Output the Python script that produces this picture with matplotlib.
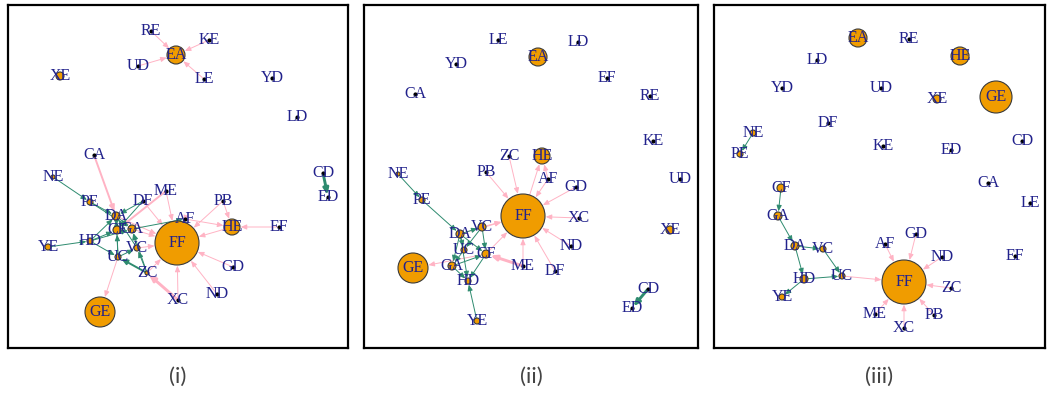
import matplotlib.pyplot as plt
from matplotlib.patches import Circle

# ノード座標（画像ピクセル座標で読み取り）
pos_i = {
    "RE": (151, 31), "KE": (209, 40), "EA": (176, 55), "UD": (138, 66), "LE": (204, 79),
    "XE": (60, 76), "YD": (272, 78), "LD": (297, 117), "CA": (94, 155), "NE": (53, 177),
    "CD": (323, 173), "ME": (166, 191), "PE": (90, 202), "DF": (143, 201), "PB": (223, 201),
    "ED": (328, 197), "DA": (116, 216), "AF": (185, 219), "HE": (232, 227), "EF": (279, 227),
    "CF": (117, 230), "GA": (132, 229), "FF": (177, 243), "HD": (90, 241), "YE": (48, 247),
    "VC": (137, 248), "UC": (118, 257), "GD": (233, 267), "ZC": (147, 273), "ND": (217, 294),
    "XC": (178, 300), "GE": (100, 312),
}
pos_ii = {
    "LE": (498, 40), "LD": (578, 42), "EA": (538, 57), "YD": (456, 64), "EF": (607, 78),
    "CA": (415, 94), "RE": (650, 96), "KE": (653, 141), "ZC": (509, 156), "HE": (542, 156),
    "NE": (398, 174), "PB": (486, 172), "AF": (548, 179), "UD": (680, 179), "GD": (576, 187),
    "PE": (422, 200), "FF": (523, 216), "XC": (579, 218), "VC": (482, 227), "XE": (670, 230),
    "DA": (460, 234), "ND": (571, 246), "UC": (464, 250), "CF": (486, 254), "ME": (523, 266),
    "GE": (413, 268), "GA": (452, 266), "DF": (555, 271), "HD": (468, 281), "CD": (648, 289),
    "ED": (632, 308), "YE": (477, 321),
}
pos_iii = {
    "EA": (858, 38), "RE": (909, 39), "HE": (960, 56), "LD": (817, 60), "YD": (782, 88),
    "UD": (881, 88), "XE": (937, 99), "GE": (996, 97), "DF": (828, 123), "NE": (753, 133),
    "KE": (883, 146), "ED": (951, 150), "CD": (1022, 141), "PE": (740, 154), "CA": (988, 183),
    "CF": (781, 188), "LE": (1030, 203), "GA": (778, 216), "GD": (916, 234), "AF": (885, 244),
    "DA": (795, 246), "VC": (823, 249), "ND": (942, 257), "EF": (1015, 256), "UC": (842, 276),
    "HD": (804, 279), "FF": (904, 282), "ZC": (951, 288), "YE": (782, 297), "ME": (875, 314),
    "PB": (934, 315), "XC": (904, 328),
}

# オレンジ色ノードの半径（px）
size_i = {"EA": 9, "XE": 4, "HE": 8, "FF": 22, "GE": 15, "DA": 4, "CF": 4, "GA": 4,
          "VC": 3, "UC": 3, "HD": 3, "PE": 3, "YE": 3, "NE": 2, "ZC": 2}
size_ii = {"EA": 9, "HE": 8, "FF": 22, "GE": 15, "XE": 4, "PE": 3, "DA": 4, "VC": 4,
           "UC": 3, "CF": 4, "GA": 4, "HD": 3, "YE": 3, "NE": 2}
size_iii = {"EA": 9, "HE": 9, "GE": 16, "XE": 4, "FF": 22, "CF": 4, "GA": 4, "DA": 4,
            "VC": 3, "UC": 3, "HD": 4, "YE": 3, "NE": 3, "PE": 3}

# エッジ（始点, 終点, 重み）
green_i = [("NE", "PE", 1), ("PE", "DA", 1), ("PE", "GA", 1), ("DF", "DA", 1), ("DF", "CF", 1),
           ("DA", "GA", 1), ("DA", "CF", 1), ("HD", "DA", 1), ("HD", "CF", 1), ("YE", "HD", 1),
           ("HD", "GA", 1), ("UC", "CF", 1), ("UC", "DA", 1), ("UC", "VC", 1), ("VC", "GA", 1),
           ("VC", "DA", 1), ("ZC", "GA", 1), ("ZC", "VC", 1), ("GA", "AF", 1), ("HD", "UC", 1),
           ("ZC", "UC", 2), ("CD", "ED", 3)]
pink_i = [("CA", "DA", 2), ("ME", "CF", 2), ("XC", "ZC", 3), ("ME", "FF", 1), ("DF", "FF", 1),
          ("AF", "FF", 1), ("PB", "HE", 1), ("PB", "FF", 1), ("AF", "HE", 1), ("EF", "HE", 1),
          ("GD", "FF", 1), ("ND", "FF", 1), ("XC", "FF", 1), ("ZC", "FF", 1), ("UC", "GE", 1),
          ("VC", "FF", 1), ("GA", "FF", 1), ("HE", "FF", 1), ("RE", "EA", 1), ("KE", "EA", 1),
          ("UD", "EA", 1), ("LE", "EA", 1), ("DA", "FF", 1)]
green_ii = [("NE", "PE", 1), ("PE", "DA", 1), ("DA", "CF", 1), ("DA", "VC", 1), ("DA", "UC", 1),
            ("DA", "GA", 1), ("DA", "HD", 1), ("VC", "CF", 1), ("VC", "UC", 1), ("UC", "GA", 1),
            ("GA", "HD", 1), ("GA", "CF", 1), ("CF", "HD", 1), ("YE", "HD", 1), ("CD", "ED", 3)]
pink_ii = [("ZC", "FF", 1), ("PB", "FF", 1), ("FF", "HE", 1), ("AF", "HE", 1), ("AF", "FF", 1),
           ("GD", "FF", 1), ("XC", "FF", 1), ("ND", "FF", 1), ("DF", "FF", 1), ("ME", "FF", 1),
           ("ME", "CF", 3), ("VC", "FF", 1), ("DA", "FF", 1), ("CF", "FF", 1), ("CF", "GE", 1)]
green_iii = [("NE", "PE", 1), ("CF", "GA", 1), ("GA", "DA", 1), ("DA", "VC", 1), ("DA", "HD", 1),
             ("VC", "UC", 1), ("HD", "UC", 1), ("HD", "YE", 1)]
pink_iii = [("UC", "FF", 1), ("AF", "FF", 1), ("GD", "FF", 1), ("ND", "FF", 1), ("ZC", "FF", 1),
            ("PB", "FF", 1), ("XC", "FF", 1), ("ME", "FF", 1)]

panel_labels = ["(i)", "(ii)", "(iii)"]

# パネル枠（px）: 左, 右, 上, 下
frames = [(8, 348, 5, 348), (364, 698, 5, 348), (714, 1045, 5, 348)]

W, H = 1048, 394
fig = plt.figure(figsize=(W / 100, H / 100), dpi=100)

PX2PT = 72 / 100
panels = [(pos_i, size_i, green_i, pink_i), (pos_ii, size_ii, green_ii, pink_ii),
          (pos_iii, size_iii, green_iii, pink_iii)]

for (pos, size, green, pink), (l, r, t, b), lab in zip(panels, frames, panel_labels):
    ax = fig.add_axes([l / W, 1 - b / H, (r - l) / W, (b - t) / H])
    ax.set_xlim(l, r)
    ax.set_ylim(b, t)
    ax.set_xticks([])
    ax.set_yticks([])
    for s in ax.spines.values():
        s.set_linewidth(1.6)
        s.set_color("black")

    # エッジ
    for edges, col in [(pink, "#ffb3c4"), (green, "#2e8b6f")]:
        for a, c, w in edges:
            rb = size.get(c, 1.5) * PX2PT + 0.5
            ra = size.get(a, 1.5) * PX2PT
            ax.annotate("", xy=pos[c], xytext=pos[a],
                        arrowprops=dict(arrowstyle="-|>,head_length=0.35,head_width=0.15",
                                        color=col, lw=0.7 * w, shrinkA=ra, shrinkB=rb),
                        zorder=2)

    # ノード
    for n, (x, y) in pos.items():
        if n in size:
            ax.add_patch(Circle((x, y), size[n], facecolor="#f09c00", edgecolor="#3a3a3a",
                                lw=0.8, zorder=3))
        else:
            ax.plot(x, y, "o", ms=2, color="black", zorder=3)
        ax.text(x, y, n, ha="center", va="center", fontsize=11.5, color="#22228c",
                family="Liberation Serif", zorder=4)

    fig.text((l + r) / 2 / W, 1 - 377 / H, lab, ha="center", va="center", fontsize=16,
             family="Lato", color="#444444")

fig.savefig("out.png", dpi=100, facecolor="white")
